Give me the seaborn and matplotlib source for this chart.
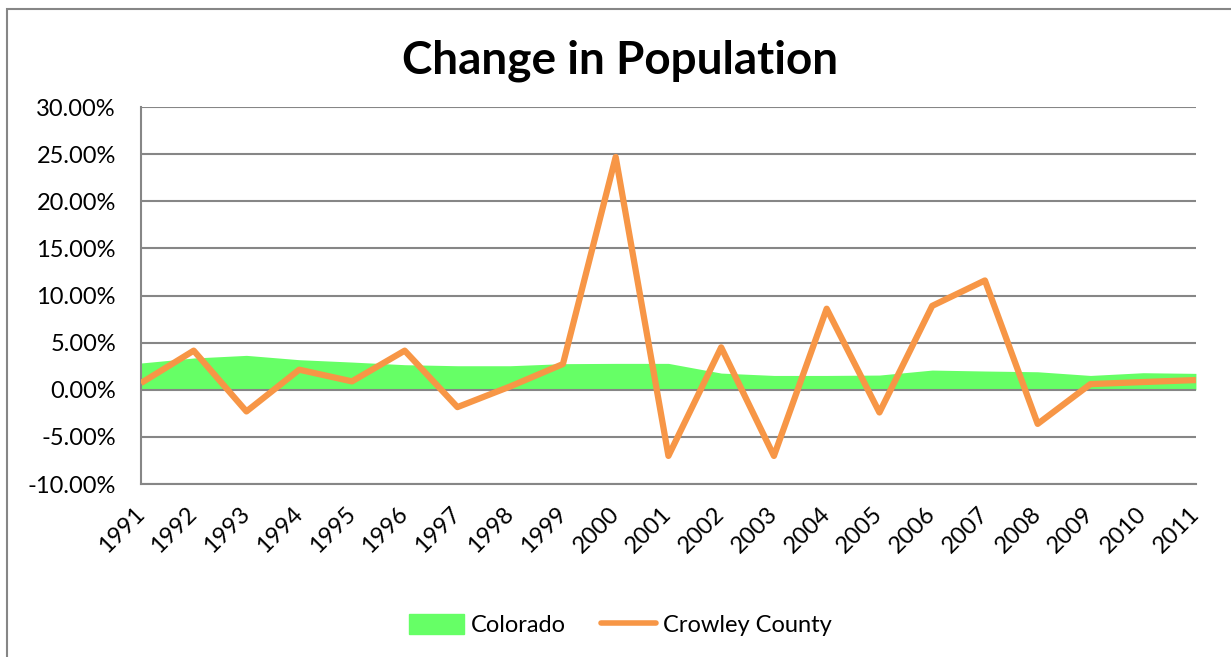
import matplotlib
matplotlib.use("Agg")
import matplotlib.pyplot as plt
import matplotlib.patches as mpatches
from matplotlib.lines import Line2D
from matplotlib.ticker import FuncFormatter
import seaborn as sns
import pandas as pd

# Dati (variazione percentuale annua)
anni = [1991, 1992, 1993, 1994, 1995, 1996, 1997, 1998, 1999, 2000, 2001,
        2002, 2003, 2004, 2005, 2006, 2007, 2008, 2009, 2010, 2011]
colorado = [2.84, 3.37, 3.65, 3.19, 2.94, 2.66, 2.55, 2.55, 2.77, 2.80, 2.80,
            1.77, 1.52, 1.52, 1.56, 2.09, 1.99, 1.91, 1.52, 1.81, 1.74]
crowley = [0.71, 4.15, -2.30, 2.13, 0.89, 4.15, -1.84, 0.35, 2.73, 24.7, -7.02,
           4.50, -7.02, 8.60, -2.41, 8.90, 11.6, -3.62, 0.60, 0.82, 1.03]
y_ticks = [-10, -5, 0, 5, 10, 15, 20, 25, 30]

df = pd.DataFrame({"Anno": anni, "Colorado": colorado, "Crowley County": crowley})

sns.set_style("white")
plt.rcParams["font.family"] = ["Lato", "DejaVu Sans"]
plt.rcParams["text.color"] = "black"

fig = plt.figure(figsize=(12.31, 6.57), dpi=100)
ax = fig.add_axes([0.1145, 0.2633, 0.857, 0.5738])

grigio = "#868686"
verde = "#66FF66"
arancio = "#F79646"

# area Colorado
ax.fill_between(df["Anno"], 0, df["Colorado"], color=verde, linewidth=0, zorder=2)

# linea Crowley County
sns.lineplot(data=df, x="Anno", y="Crowley County", ax=ax, color=arancio,
             linewidth=4.5, zorder=4, solid_joinstyle="round", solid_capstyle="butt")

ax.set_xlim(anni[0], anni[-1])
ax.set_ylim(-10, 30)
ax.set_yticks(y_ticks)
ax.yaxis.set_major_formatter(FuncFormatter(lambda v, p: f"{v:.2f}%"))
ax.set_xticks(anni)
ax.set_xticklabels([str(a) for a in anni], rotation=45, ha="right",
                   rotation_mode="anchor", va="center")
ax.tick_params(axis="both", length=0, labelsize=17, colors="black")
ax.tick_params(axis="x", pad=19)
ax.tick_params(axis="y", pad=18)

for v in y_ticks:
    ax.axhline(v, color=grigio, linewidth=1.5, zorder=3 if v == 0 else 1)

for lato in ["top", "right"]:
    ax.spines[lato].set_visible(False)
for lato in ["left", "bottom"]:
    ax.spines[lato].set_color(grigio)
    ax.spines[lato].set_linewidth(1.5)

ax.set_xlabel("")
ax.set_ylabel("")

fig.text(0.504, 0.907, "Change in Population", ha="center", va="center",
         fontsize=33, fontweight="bold", color="black")

# legenda in basso
handles = [mpatches.Patch(color=verde, label="Colorado"),
           Line2D([0], [0], color=arancio, linewidth=4, label="Crowley County")]
fig.legend(handles=handles, loc="center", bbox_to_anchor=(0.504, 0.049), ncol=2,
           frameon=False, fontsize=17, handlelength=2.3, handleheight=0.95,
           columnspacing=1.5, handletextpad=0.3)

# bordo esterno del grafico
fig.patches.append(mpatches.Rectangle((0.006, -0.01), 1.1, 0.996, transform=fig.transFigure,
                                      fill=False, edgecolor=grigio, linewidth=1.5))

fig.savefig("out.png", dpi=100)
